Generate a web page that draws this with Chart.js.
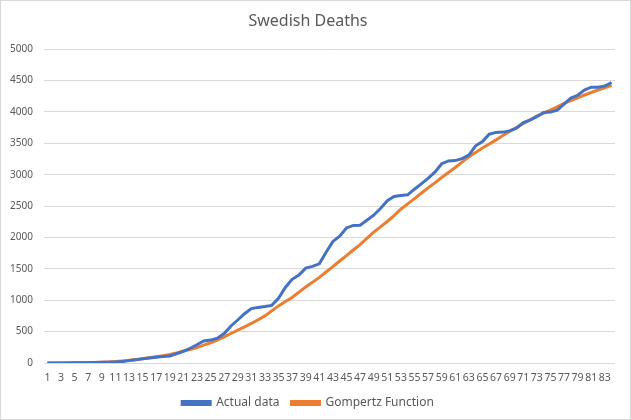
<!DOCTYPE html>
<html>
<head>
<meta charset="utf-8">
<script src="https://cdn.jsdelivr.net/npm/chart.js@4.4.0/dist/chart.umd.min.js"></script>
<style>
  html, body { margin: 0; padding: 0; background: #fff; }
  #wrap { width: 631px; height: 420px; box-sizing: border-box; border: 1px solid #d9d9d9; }
</style>
</head>
<body>
<div id="wrap"><canvas id="chart" width="629" height="418"></canvas></div>
<script>
// Días 1..84
const days = Array.from({ length: 84 }, (_, i) => String(i + 1));

// Muertes acumuladas
const actualData = [
  0, 0, 1, 1, 2, 3, 5, 7, 10, 12,
  16, 22, 38, 50, 68, 80, 92, 102, 113, 148,
  185, 235, 290, 350, 365, 395, 470, 590, 685, 785,
  866, 886, 900, 918, 1032, 1203, 1333, 1400, 1511, 1540,
  1580, 1765, 1937, 2021, 2152, 2192, 2194, 2274, 2355, 2462,
  2586, 2653, 2669, 2679, 2769, 2854, 2941, 3040, 3175, 3220,
  3225, 3256, 3313, 3460, 3529, 3646, 3674, 3679, 3698, 3743,
  3831, 3871, 3925, 3992, 3998, 4029, 4125, 4220, 4266, 4350,
  4395, 4395, 4412, 4470
];

// Ajuste Gompertz
const gompertzData = [
  0, 0, 1, 2, 3, 5, 7, 9, 12, 17,
  24, 32, 42, 55, 68, 84, 100, 115, 135, 160,
  190, 215, 245, 285, 320, 365, 415, 470, 525, 575,
  630, 690, 750, 830, 910, 980, 1045, 1130, 1210, 1285,
  1365, 1450, 1535, 1625, 1710, 1800, 1885, 1985, 2085, 2170,
  2255, 2350, 2450, 2535, 2620, 2705, 2790, 2870, 2955, 3035,
  3115, 3200, 3285, 3355, 3425, 3490, 3555, 3625, 3690, 3750,
  3815, 3875, 3935, 3980, 4030, 4080, 4135, 4180, 4225, 4270,
  4310, 4350, 4385, 4425
];

const textColor = '#595959';
const gridColor = '#d9d9d9';
Chart.defaults.font.family = "'Noto Sans', sans-serif";
Chart.defaults.color = textColor;

new Chart(document.getElementById('chart').getContext('2d'), {
  type: 'line',
  data: {
    labels: days,
    datasets: [
      {
        label: 'Actual data',
        data: actualData,
        borderColor: '#4472C4',
        backgroundColor: '#4472C4',
        borderWidth: 3,
        pointRadius: 0,
        tension: 0
      },
      {
        label: 'Gompertz Function',
        data: gompertzData,
        borderColor: '#ED7D31',
        backgroundColor: '#ED7D31',
        borderWidth: 3,
        pointRadius: 0,
        tension: 0
      }
    ]
  },
  options: {
    responsive: false,
    animation: false,
    layout: { padding: { left: 0, right: 15, top: 0, bottom: 0 } },
    plugins: {
      title: {
        display: true,
        text: 'Swedish Deaths',
        color: textColor,
        font: { size: 16, weight: 'normal' },
        padding: { top: 11, bottom: 18 }
      },
      legend: {
        position: 'bottom',
        labels: {
          color: textColor,
          font: { size: 12 },
          boxWidth: 28,
          boxHeight: 3,
          padding: 12
        }
      },
      tooltip: { enabled: false }
    },
    scales: {
      x: {
        offset: true,
        grid: { display: false, drawTicks: false },
        border: { display: false },
        ticks: {
          autoSkip: false,
          maxRotation: 0,
          minRotation: 0,
          padding: 9,
          font: { size: 10.5 },
          color: textColor,
          callback: function (val, i) { return i % 2 === 0 ? days[i] : ''; }
        },
        afterFit: function (scale) { scale.height = 22; }
      },
      y: {
        min: 0,
        max: 5000,
        grid: { color: gridColor, drawTicks: false },
        border: { display: false },
        ticks: {
          stepSize: 500,
          padding: 11,
          font: { size: 10 },
          color: textColor,
          callback: function (val) { return String(val); }
        },
        afterFit: function (scale) { scale.width = 43; }
      }
    }
  }
});
</script>
</body>
</html>
